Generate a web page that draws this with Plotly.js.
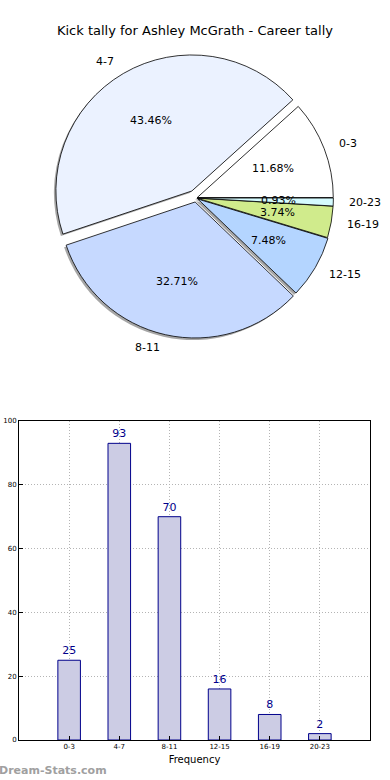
<!DOCTYPE html>
<html>
<head>
<meta charset="utf-8">
<script src="https://cdn.plot.ly/plotly-3.0.1.min.js"></script>
<style>html,body{margin:0;padding:0;background:#fff}#chart{width:390px;height:780px}</style>
</head>
<body>
<div id="chart"></div>
<script>
var categories = ['0-3','4-7','8-11','12-15','16-19','20-23'];
var counts = [25,93,70,16,8,2];
var pieColors = ['#ffffff','#ebf2ff','#c6d9ff','#b4d5ff','#d0eb8c','#d5fbff'];
var pulls = [0.01,0.06,0.03,0.015,0.01,0.01];
var titleText = 'Kick tally for Ashley McGrath - Career tally';

var W = 390, H = 780;
var cx = 196, cy = 198, R = 136;
var maxPull = Math.max.apply(null, pulls);
var half = R * (1 + maxPull);
var font = 'DejaVu Sans, sans-serif';

var total = counts.reduce(function(a,b){return a+b;},0);
var rot = 90 - counts[0]/total*360;

function pieDomain(dx, dy){
  return {x:[(cx+dx-half)/W,(cx+dx+half)/W], y:[1-(cy+dy+half)/H,1-(cy+dy-half)/H]};
}

var shadow = {
  type:'pie', labels:categories, values:counts, sort:false,
  direction:'counterclockwise', rotation:rot, pull:pulls,
  marker:{colors:categories.map(function(){return 'rgba(0,0,0,0.35)';}), line:{width:0}},
  textinfo:'none', hoverinfo:'skip', showlegend:false,
  domain:pieDomain(-2,2)
};
var pie = {
  type:'pie', labels:categories, values:counts, sort:false,
  direction:'counterclockwise', rotation:rot, pull:pulls,
  marker:{colors:pieColors, line:{color:'#000', width:0.8}},
  textinfo:'none', hoverinfo:'label+percent', showlegend:false,
  domain:pieDomain(0,0)
};

var annotations = [];
var cum = 0;
for (var i=0;i<counts.length;i++){
  var a0 = cum/total*2*Math.PI; cum += counts[i];
  var a1 = cum/total*2*Math.PI;
  var mid = (a0+a1)/2;
  var c = Math.cos(mid), s = Math.sin(mid);
  var off = pulls[i]*R;
  var lr = 1.1*R + off, pr = 0.6*R + off;
  annotations.push({xref:'paper', yref:'paper', x:(cx+lr*c)/W, y:1-(cy-lr*s)/H,
    text:categories[i], showarrow:false, xanchor:(c<0?'right':'left'), yanchor:'middle',
    font:{family:font,size:11,color:'#000'}});
  annotations.push({xref:'paper', yref:'paper', x:(cx+pr*c)/W, y:1-(cy-pr*s)/H,
    text:(counts[i]/total*100).toFixed(2)+'%', showarrow:false, xanchor:'center', yanchor:'middle',
    font:{family:font,size:11,color:'#000'}});
}
annotations.push({xref:'paper', yref:'paper', x:-0.008, y:1-770/H, xanchor:'left', yanchor:'middle',
  text:'<b>Dream-Stats.com</b>', showarrow:false, font:{family:font,size:11,color:'#a0a0a0'}});

var bars = {
  type:'bar', x:[0,1,2,3,4,5], y:counts, width:0.45,
  marker:{color:'#ccccE4', line:{color:'#00008b', width:1}},
  text:counts.map(String), textposition:'outside', cliponaxis:false,
  textfont:{family:font,size:11,color:'#00008b'},
  xaxis:'x', yaxis:'y', showlegend:false, hoverinfo:'x+y'
};

var layout = {
  width:W, height:H, margin:{l:0,r:0,t:0,b:0},
  paper_bgcolor:'#fff', plot_bgcolor:'#fff',
  font:{family:font,color:'#000'},
  title:{text:titleText, x:0.5, xanchor:'center', y:1-30/H, yanchor:'middle', yref:'container',
    font:{family:font,size:13,color:'#000'}},
  xaxis:{domain:[19/W,370/W], range:[-1,6], tickmode:'array', tickvals:[0,1,2,3,4,5], ticktext:categories,
    showline:true, mirror:true, linecolor:'#000', linewidth:1, ticks:'inside', ticklen:4, tickcolor:'#000',
    showgrid:true, gridcolor:'#b4b4b4', griddash:'1px,2px', gridwidth:1, zeroline:false,
    tickfont:{family:font,size:7,color:'#000'},
    title:{text:'Frequency', font:{family:font,size:10,color:'#000'}, standoff:5}},
  yaxis:{domain:[1-740/H,1-421/H], range:[0,100], dtick:20,
    showline:true, mirror:true, linecolor:'#000', linewidth:1, ticks:'inside', ticklen:4, tickcolor:'#000',
    showgrid:true, gridcolor:'#b4b4b4', griddash:'1px,2px', gridwidth:1, zeroline:false,
    tickfont:{family:font,size:7,color:'#000'}},
  annotations:annotations
};

Plotly.newPlot('chart', [shadow, pie, bars], layout, {staticPlot:true});
</script>
</body>
</html>
